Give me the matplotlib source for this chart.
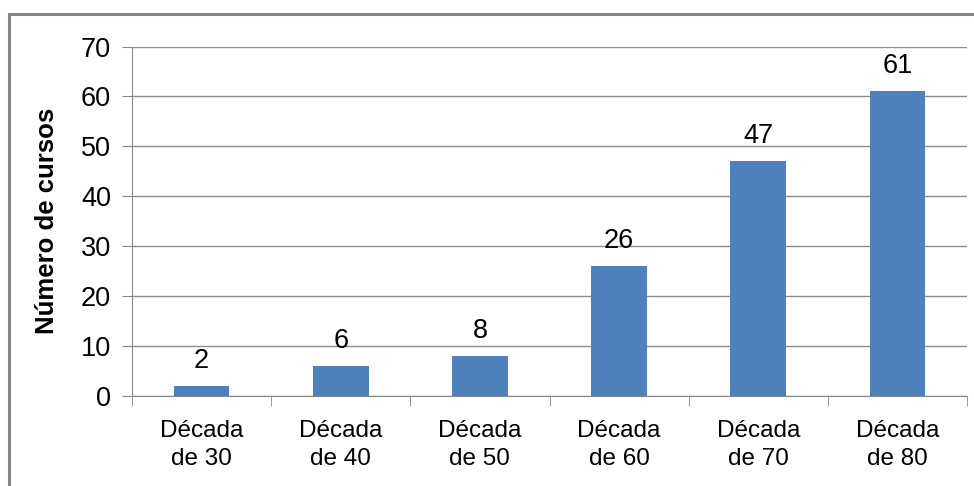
import matplotlib.pyplot as plt
from matplotlib.patches import Rectangle
import numpy as np

plt.rcParams['font.family'] = ['Liberation Sans', 'DejaVu Sans']

categorias = ['Década\nde 30', 'Década\nde 40', 'Década\nde 50',
              'Década\nde 60', 'Década\nde 70', 'Década\nde 80']
cursos = [2, 6, 8, 26, 47, 61]

fig = plt.figure(figsize=(9.74, 4.86), dpi=100)
ax = fig.add_axes([132/974, 1 - 396/486, (967 - 132)/974, (396 - 46.5)/486])

# outer chart border (Excel style)
fig.patches.append(Rectangle((9/974, -0.1), 1.2, 1 - 14/486 + 0.1,
                             transform=fig.transFigure, fill=False,
                             edgecolor='#868686', linewidth=2.2))

x = np.arange(len(categorias))
ax.bar(x, cursos, width=0.4, color='#4F81BD', zorder=3)

for xi, v in zip(x, cursos):
    ax.annotate(str(v), (xi, v), xytext=(0, 9), textcoords='offset points',
                ha='center', va='bottom', fontsize=19.5)

ax.set_xlim(-0.5, len(categorias) - 0.5)
ax.set_ylim(0, 70)
ax.set_yticks(range(0, 71, 10))
ax.yaxis.grid(True, color='#8c8c8c', linewidth=1, zorder=0)

ax.set_xticks(x)
ax.set_xticklabels(categorias, fontsize=17.5, linespacing=1.4)
ax.set_xticks(np.arange(-0.5, len(categorias), 1), minor=True)
ax.tick_params(axis='x', which='major', length=0, pad=17)
ax.tick_params(axis='x', which='minor', length=7, color='#868686')
ax.tick_params(axis='y', length=7, color='#868686', labelsize=19.5, pad=8)

ax.set_ylabel('Número de cursos', fontsize=18.5, fontweight='bold', labelpad=16)

for s in ['top', 'right']:
    ax.spines[s].set_visible(False)
ax.spines['left'].set_color('#868686')
ax.spines['bottom'].set_color('#868686')

fig.savefig('out.png', dpi=100)
